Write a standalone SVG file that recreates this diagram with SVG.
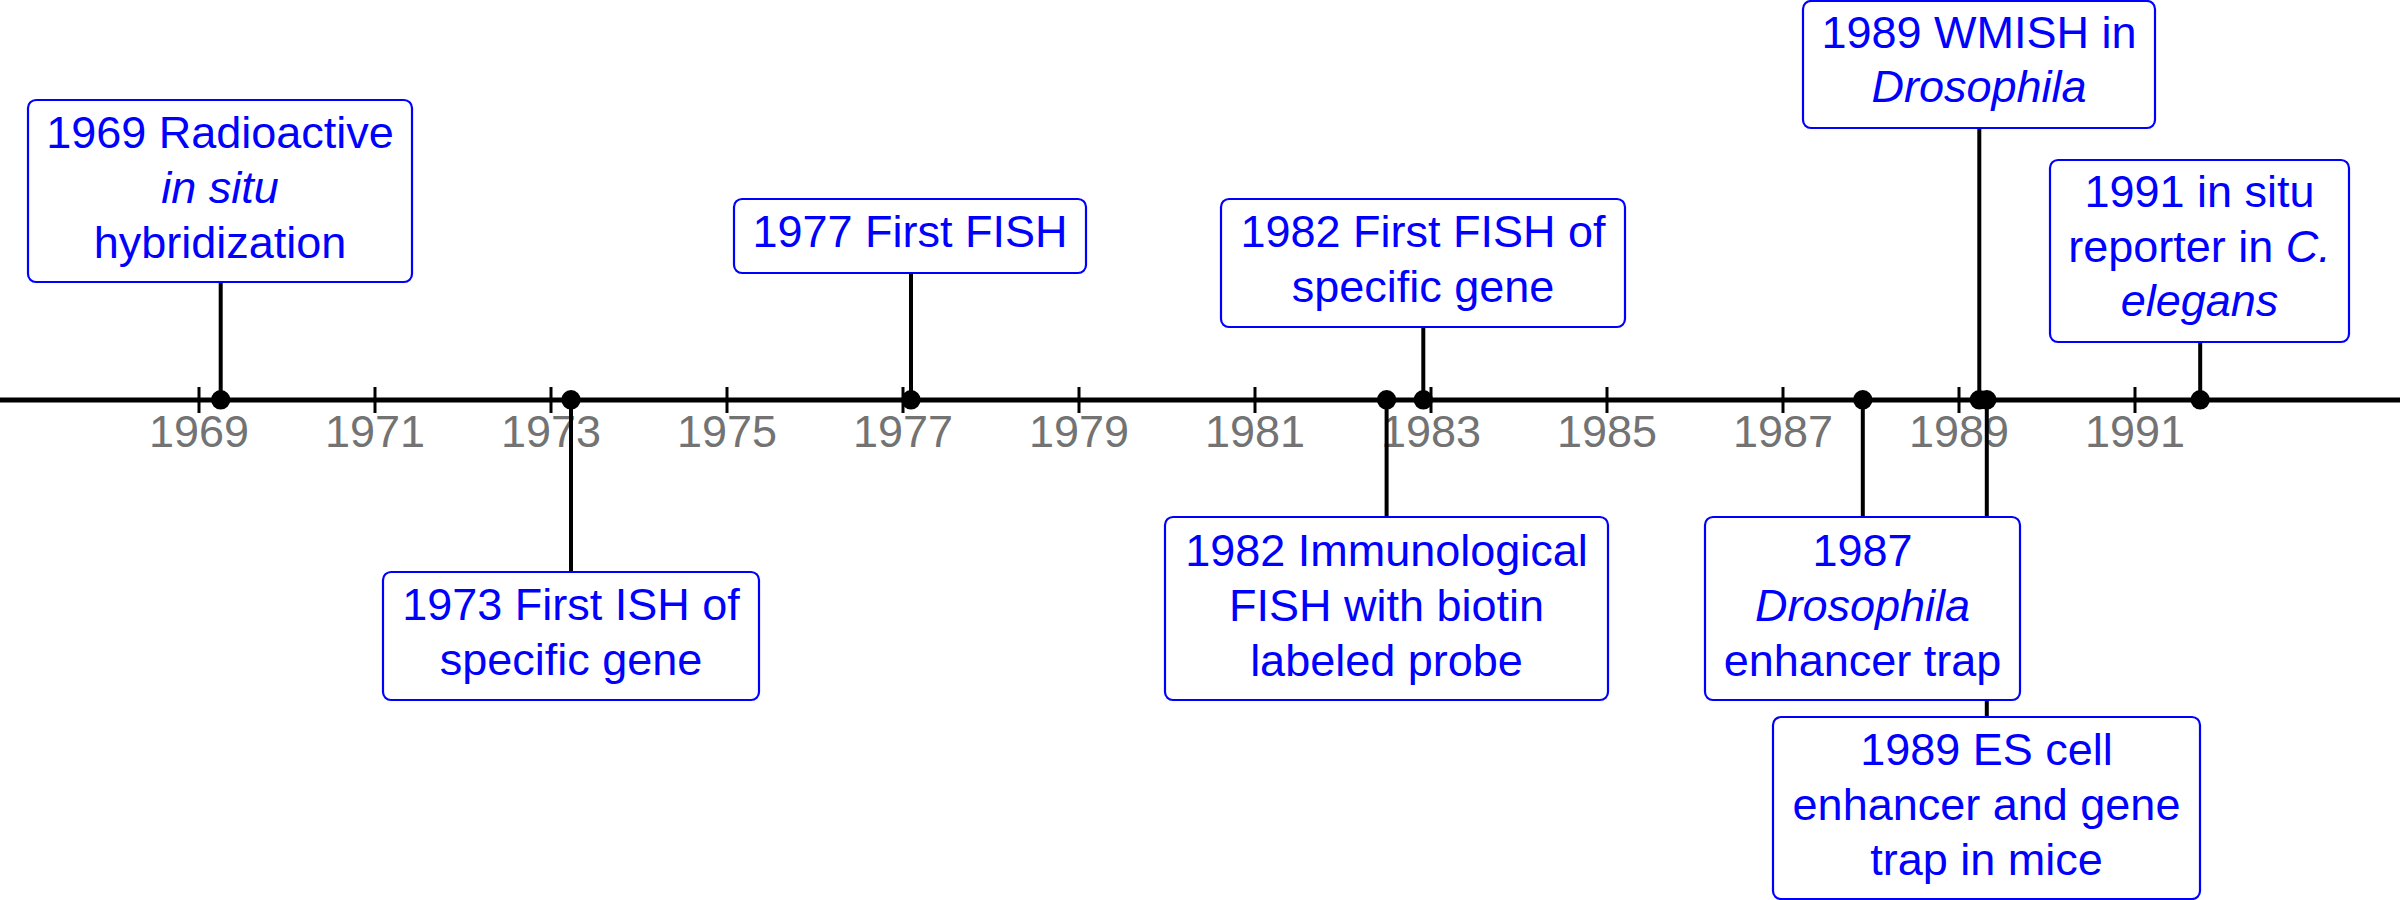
<svg xmlns="http://www.w3.org/2000/svg" width="2400" height="900" viewBox="0 0 2400 900">
<style>
text { font-family: "Liberation Sans", Arial, sans-serif; font-size: 45px; }
.lbl { fill: #0000ff; text-anchor: middle; }
.yr { fill: #737373; text-anchor: middle; }
.box { fill: #ffffff; stroke: #0000ff; stroke-width: 2.2; }
.stem { stroke: #000000; stroke-width: 4; }
.tick { stroke: #000000; stroke-width: 3; }
.dot { fill: #000000; }
.it { font-style: italic; }
</style>
<rect width="2400" height="900" fill="#ffffff"/>
<g id="axis">
  <line x1="0" y1="400" x2="2400" y2="400" stroke="#000000" stroke-width="5"/>
  <g class="ticks">
    <line class="tick" x1="199" y1="387" x2="199" y2="413"/>
    <line class="tick" x1="375" y1="387" x2="375" y2="413"/>
    <line class="tick" x1="551" y1="387" x2="551" y2="413"/>
    <line class="tick" x1="727" y1="387" x2="727" y2="413"/>
    <line class="tick" x1="903" y1="387" x2="903" y2="413"/>
    <line class="tick" x1="1079" y1="387" x2="1079" y2="413"/>
    <line class="tick" x1="1255" y1="387" x2="1255" y2="413"/>
    <line class="tick" x1="1431" y1="387" x2="1431" y2="413"/>
    <line class="tick" x1="1607" y1="387" x2="1607" y2="413"/>
    <line class="tick" x1="1783" y1="387" x2="1783" y2="413"/>
    <line class="tick" x1="1959" y1="387" x2="1959" y2="413"/>
    <line class="tick" x1="2135" y1="387" x2="2135" y2="413"/>
  </g>
  <g class="years">
    <text class="yr" x="199" y="447">1969</text>
    <text class="yr" x="375" y="447">1971</text>
    <text class="yr" x="551" y="447">1973</text>
    <text class="yr" x="727" y="447">1975</text>
    <text class="yr" x="903" y="447">1977</text>
    <text class="yr" x="1079" y="447">1979</text>
    <text class="yr" x="1255" y="447">1981</text>
    <text class="yr" x="1431" y="447">1983</text>
    <text class="yr" x="1607" y="447">1985</text>
    <text class="yr" x="1783" y="447">1987</text>
    <text class="yr" x="1959" y="447">1989</text>
    <text class="yr" x="2135" y="447">1991</text>
  </g>
</g>
<g id="connectors">
  <line class="stem" x1="220.7" y1="282" x2="220.7" y2="400"/>
  <line class="stem" x1="571" y1="400" x2="571" y2="572"/>
  <line class="stem" x1="911" y1="273" x2="911" y2="400"/>
  <line class="stem" x1="1386.6" y1="400" x2="1386.6" y2="517"/>
  <line class="stem" x1="1423.3" y1="327" x2="1423.3" y2="400"/>
  <line class="stem" x1="1862.8" y1="400" x2="1862.8" y2="517"/>
  <line class="stem" x1="1979.3" y1="128" x2="1979.3" y2="400"/>
  <line class="stem" x1="1986.8" y1="400" x2="1986.8" y2="717"/>
  <line class="stem" x1="2200.2" y1="342" x2="2200.2" y2="400"/>
  <circle class="dot" cx="220.7" cy="399.8" r="9.7"/>
  <circle class="dot" cx="571" cy="399.8" r="9.7"/>
  <circle class="dot" cx="911" cy="399.8" r="9.7"/>
  <circle class="dot" cx="1386.6" cy="399.8" r="9.7"/>
  <circle class="dot" cx="1423.3" cy="399.8" r="9.7"/>
  <circle class="dot" cx="1862.8" cy="399.8" r="9.7"/>
  <circle class="dot" cx="1979.3" cy="399.8" r="9.7"/>
  <circle class="dot" cx="1986.8" cy="399.8" r="9.7"/>
  <circle class="dot" cx="2200.2" cy="399.8" r="9.7"/>
</g>
<g id="n1969">
  <rect class="box" x="28" y="100" width="384" height="182" rx="8"/>
  <text class="lbl" x="220" y="147.5">1969 Radioactive</text>
  <text class="lbl it" x="220" y="202.5">in situ</text>
  <text class="lbl" x="220" y="257.5">hybridization</text>
</g>
<g id="n1973">
  <rect class="box" x="383" y="572" width="376" height="128" rx="8"/>
  <text class="lbl" x="571" y="620">1973 First ISH of</text>
  <text class="lbl" x="571" y="675">specific gene</text>
</g>
<g id="n1977">
  <rect class="box" x="734" y="199" width="352" height="74" rx="8"/>
  <text class="lbl" x="910" y="247">1977 First FISH</text>
</g>
<g id="n1982fish">
  <rect class="box" x="1221" y="199" width="404" height="128" rx="8"/>
  <text class="lbl" x="1423" y="247">1982 First FISH of</text>
  <text class="lbl" x="1423" y="302">specific gene</text>
</g>
<g id="n1982immuno">
  <rect class="box" x="1165" y="517" width="443" height="183" rx="8"/>
  <text class="lbl" x="1386.5" y="565.5">1982 Immunological</text>
  <text class="lbl" x="1386.5" y="620.5">FISH with biotin</text>
  <text class="lbl" x="1386.5" y="675.5">labeled probe</text>
</g>
<g id="n1987">
  <rect class="box" x="1705" y="517" width="315" height="183" rx="8"/>
  <text class="lbl" x="1862.5" y="565.5">1987</text>
  <text class="lbl it" x="1862.5" y="620.5">Drosophila</text>
  <text class="lbl" x="1862.5" y="675.5">enhancer trap</text>
</g>
<g id="n1989wmish">
  <rect class="box" x="1803" y="1" width="352" height="127" rx="8"/>
  <text class="lbl" x="1979" y="48">1989 WMISH in</text>
  <text class="lbl it" x="1979" y="102">Drosophila</text>
</g>
<g id="n1989es">
  <rect class="box" x="1773" y="717" width="427" height="182" rx="8"/>
  <text class="lbl" x="1986.5" y="765">1989 ES cell</text>
  <text class="lbl" x="1986.5" y="820">enhancer and gene</text>
  <text class="lbl" x="1986.5" y="875">trap in mice</text>
</g>
<g id="n1991">
  <rect class="box" x="2050" y="160" width="299" height="182" rx="8"/>
  <text class="lbl" x="2199.5" y="207">1991 in situ</text>
  <text class="lbl" x="2199.5" y="262">reporter in <tspan class="it">C.</tspan></text>
  <text class="lbl it" x="2199.5" y="316">elegans</text>
</g>
</svg>
